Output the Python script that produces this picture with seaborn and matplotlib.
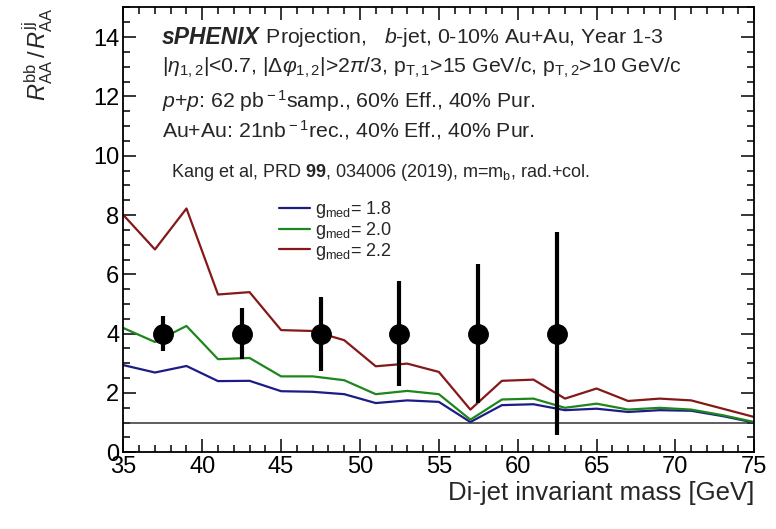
import numpy as np
import pandas as pd
import matplotlib
matplotlib.use("Agg")
import matplotlib.pyplot as plt
from matplotlib.ticker import MultipleLocator
import seaborn as sns

# ---- data ----
mass = [35, 37, 39, 41, 43, 45, 47, 49, 51, 53, 55, 57, 59, 61, 63, 65, 67, 69, 71, 73, 75]
g18 = [2.94, 2.69, 2.91, 2.40, 2.41, 2.06, 2.04, 1.96, 1.66, 1.75, 1.70, 1.02, 1.59, 1.62, 1.42, 1.47, 1.36, 1.42, 1.40, 1.22, 1.00]
g20 = [4.19, 3.72, 4.26, 3.14, 3.18, 2.56, 2.56, 2.43, 1.96, 2.07, 1.96, 1.10, 1.78, 1.81, 1.50, 1.64, 1.44, 1.50, 1.44, 1.25, 1.02]
g22 = [8.00, 6.84, 8.22, 5.32, 5.40, 4.12, 4.09, 3.78, 2.90, 2.99, 2.71, 1.44, 2.41, 2.45, 1.81, 2.15, 1.73, 1.81, 1.75, 1.47, 1.19]
series_labels = [r"g$_{\rm med}$= 1.8", r"g$_{\rm med}$= 2.0", r"g$_{\rm med}$= 2.2"]

proj_x = [37.5, 42.5, 47.5, 52.5, 57.5, 62.5]
proj_y = [4.0, 4.0, 4.0, 4.0, 4.0, 4.0]
proj_err = [0.6, 0.85, 1.25, 1.77, 2.35, 3.43]

xticks = [35, 40, 45, 50, 55, 60, 65, 70, 75]
yticks = [0, 2, 4, 6, 8, 10, 12, 14]

# ---- style ----
sns.set_theme(style="ticks")
plt.rcParams['font.family'] = ['Liberation Sans', 'DejaVu Sans']
plt.rcParams['mathtext.fontset'] = 'custom'
plt.rcParams['mathtext.rm'] = 'Liberation Sans'
plt.rcParams['mathtext.it'] = 'Liberation Sans:italic'
plt.rcParams['mathtext.bf'] = 'Liberation Sans:bold'
plt.rcParams['mathtext.sf'] = 'Liberation Sans'

fig = plt.figure(figsize=(7.76, 5.29), dpi=100)
ax = fig.add_axes([0.159, 0.145, 0.813, 0.841])

df = pd.DataFrame({
    "mass": mass * 3,
    "ratio": g18 + g20 + g22,
    "model": [series_labels[0]] * len(mass) + [series_labels[1]] * len(mass) + [series_labels[2]] * len(mass),
})
palette = {series_labels[0]: "#1c1c86", series_labels[1]: "#1d861d", series_labels[2]: "#851818"}

ax.axhline(1.0, color="#333333", lw=1.1, zorder=1)
sns.lineplot(data=df, x="mass", y="ratio", hue="model", palette=palette, lw=1.6,
             ax=ax, legend=True, zorder=2)

ax.errorbar(proj_x, proj_y, yerr=proj_err, fmt="o", color="black", ms=14,
            elinewidth=3, capsize=0, zorder=5)

ax.set_xlim(35, 75)
ax.set_ylim(0, 15)
ax.set_xticks(xticks)
ax.set_yticks(yticks)
ax.xaxis.set_minor_locator(MultipleLocator(1))
ax.yaxis.set_minor_locator(MultipleLocator(0.5))
ax.tick_params(which="both", direction="in", top=True, right=True, width=1.1, colors="black")
ax.tick_params(which="major", length=9.5, labelsize=17, pad=3)
ax.tick_params(which="minor", length=5)
for s in ax.spines.values():
    s.set_linewidth(1.3)
    s.set_color("black")

ax.set_xlabel("Di-jet invariant mass [GeV]", fontsize=18.5, loc="right", labelpad=2)
ax.set_ylabel(r"$R_{\rm AA}^{\rm bb}\,/\,R_{\rm AA}^{\rm jj}$", fontsize=17, loc="top", labelpad=27)

leg = ax.legend(loc="upper left", frameon=False,
                fontsize=13, handlelength=1.7, handletextpad=0.3, labelspacing=-0.02,
                borderaxespad=0, bbox_to_anchor=(0.235, 0.585), bbox_transform=ax.transAxes)

fs = 15.3
t1 = ax.text(37.45, 14.0, "sPHENIX", fontsize=16.5, fontweight="bold", fontstyle="italic",
             va="center", ha="left")
ax.annotate(r" Projection,   $b$-jet, 0-10% Au+Au, Year 1-3", xy=(1.0, 0.5), xycoords=t1,
            fontsize=fs, va="center", ha="left")
ax.text(37.45, 12.95,
        r"|$\eta_{\rm 1,2}$|<0.7, |$\Delta\varphi_{\rm 1,2}$|>2$\pi$/3, p$_{\rm T,1}$>15 GeV/c, p$_{\rm T,2}$>10 GeV/c",
        fontsize=fs, va="center", ha="left")
ax.text(37.45, 11.85, r"$p$+$p$: 62 pb$^{\rm -1}$samp., 60% Eff., 40% Pur.",
        fontsize=fs, va="center", ha="left")
ax.text(37.45, 10.85, r"Au+Au: 21nb$^{\rm -1}$rec., 40% Eff., 40% Pur.",
        fontsize=fs, va="center", ha="left")
ax.text(38.0, 9.45, r"Kang et al, PRD $\mathbf{99}$, 034006 (2019), m=m$_{\rm b}$, rad.+col.",
        fontsize=13, va="center", ha="left")

fig.savefig("out.png", dpi=100)
